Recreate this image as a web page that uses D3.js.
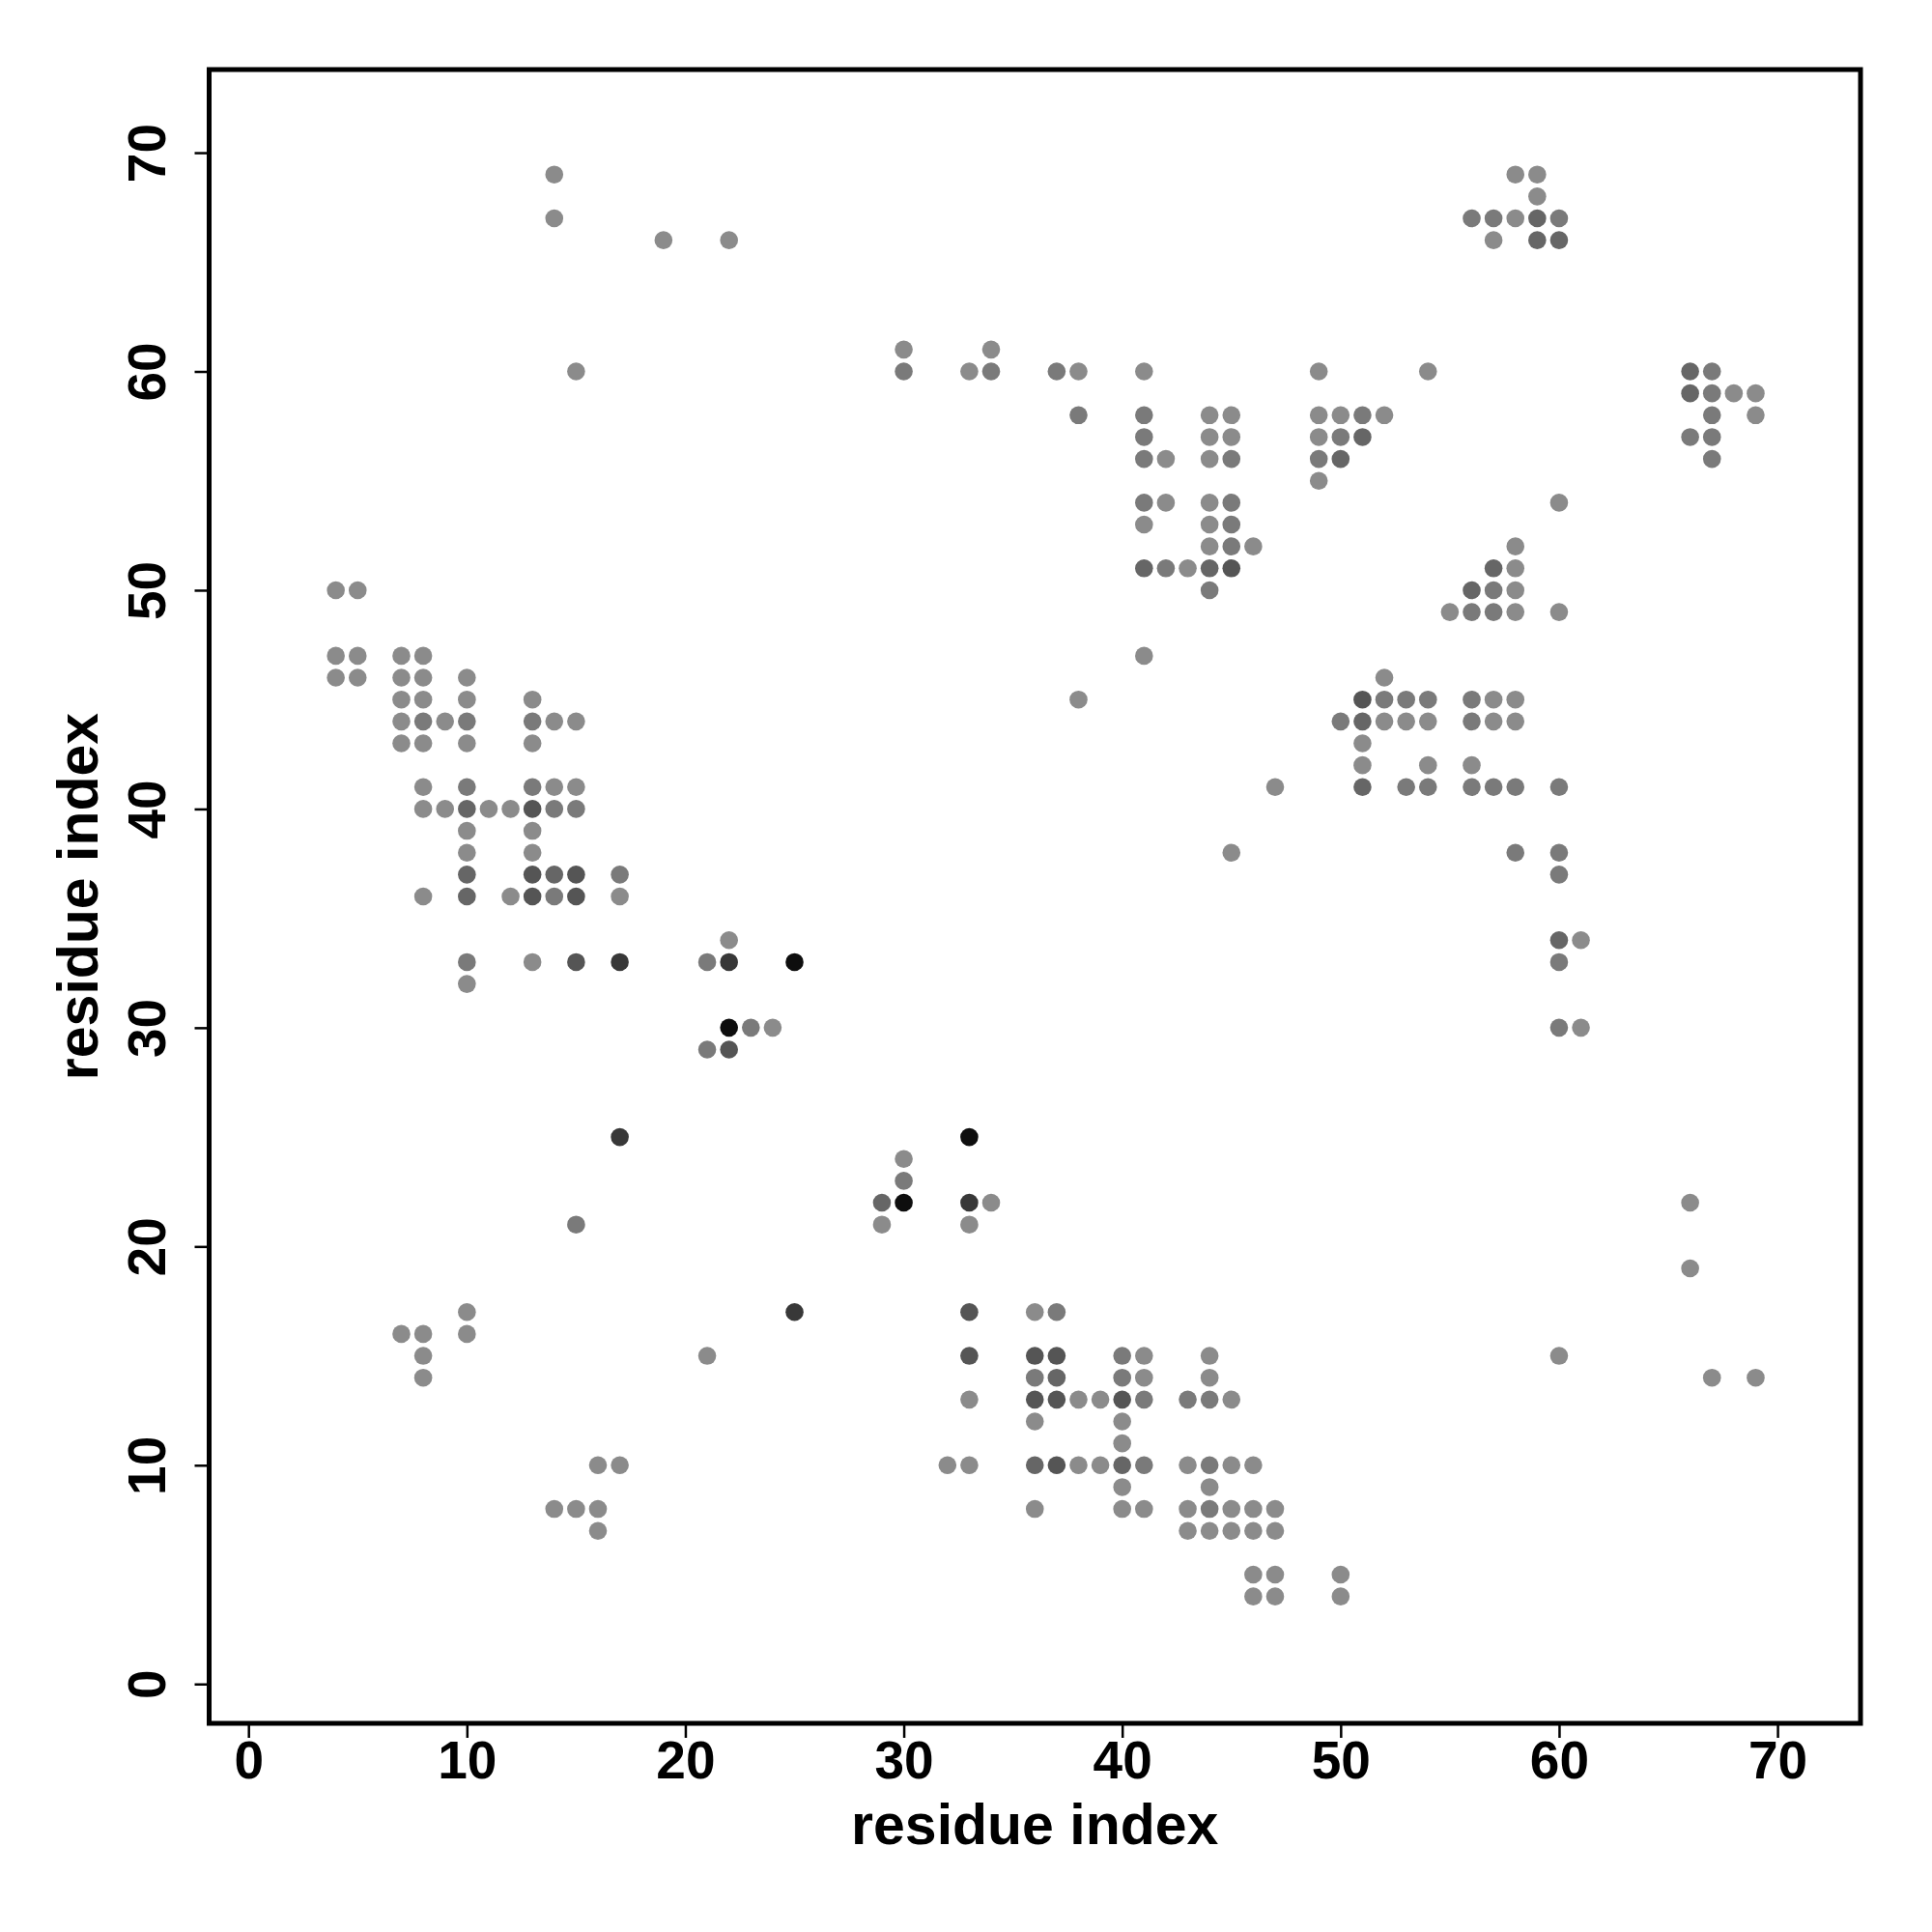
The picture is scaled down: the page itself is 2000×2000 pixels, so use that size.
<!DOCTYPE html>
<html>
<head>
<meta charset="utf-8">
<script src="https://cdn.jsdelivr.net/npm/d3@7"></script>
<style>
  html, body { margin: 0; padding: 0; background: #ffffff; }
  svg { display: block; }
</style>
</head>
<body>
<script>
// ---- data: contact pairs (residue i, residue j) and contact strength level ----
const residueI = [
  14, 58, 59, 59,
  14, 56, 57, 58, 59, 60,
  19, 22, 57, 59, 60,
  30, 34,
  15, 30, 33, 34, 37, 38, 41, 49, 54, 66, 67,
  66, 67, 68, 69,
  38, 41, 44, 45, 49, 50, 51, 52, 67, 69,
  41, 44, 45, 49, 50, 51, 66, 67,
  41, 42, 44, 45, 49, 50, 67,
  49,
  41, 42, 44, 45, 60,
  41, 44, 45,
  44, 45, 46, 58,
  41, 42, 43, 44, 45, 57, 58,
  4, 5, 44, 56, 57, 58,
  55, 56, 57, 58, 60,
  4, 5, 7, 8, 41,
  4, 5, 7, 8, 10, 52,
  7, 8, 10, 13, 38, 51, 52, 53, 54, 56, 57, 58,
  7, 8, 9, 10, 13, 14, 15, 50, 51, 52, 53, 54, 56, 57, 58,
  7, 8, 10, 13, 51,
  51, 54, 56,
  8, 10, 13, 14, 15, 47, 51, 53, 54, 56, 57, 58, 60,
  8, 9, 10, 11, 12, 13, 14, 15,
  10, 13,
  10, 13, 45, 58, 60,
  10, 13, 14, 15, 17, 60,
  8, 10, 12, 13, 14, 15, 17,
  22, 60, 61,
  10, 13, 15, 17, 21, 22, 25, 60,
  10,
  22, 23, 24, 60, 61,
  21, 22,
  17, 33,
  30,
  30,
  29, 30, 33, 34, 66,
  15, 29, 33,
  66,
  10, 25, 33, 36, 37,
  7, 8, 10,
  8, 21, 33, 36, 37, 40, 41, 44, 60,
  8, 36, 37, 40, 41, 44, 67, 69,
  33, 36, 37, 38, 39, 40, 41, 43, 44, 45,
  36, 40,
  40,
  16, 17, 32, 33, 36, 37, 38, 39, 40, 41, 43, 44, 45, 46,
  40, 44,
  14, 15, 16, 36, 40, 41, 43, 44, 45, 46, 47,
  16, 43, 44, 45, 46, 47,
  46, 47, 50,
  46, 47, 50
];
const residueJ = [
  69, 69, 69, 68,
  67, 67, 67, 67, 67, 67,
  66, 66, 66, 66, 66,
  61, 61,
  60, 60, 60, 60, 60, 60, 60, 60, 60, 60, 60,
  59, 59, 59, 59,
  58, 58, 58, 58, 58, 58, 58, 58, 58, 58,
  57, 57, 57, 57, 57, 57, 57, 57,
  56, 56, 56, 56, 56, 56, 56,
  55,
  54, 54, 54, 54, 54,
  53, 53, 53,
  52, 52, 52, 52,
  51, 51, 51, 51, 51, 51, 51,
  50, 50, 50, 50, 50, 50,
  49, 49, 49, 49, 49,
  47, 47, 47, 47, 47,
  46, 46, 46, 46, 46, 46,
  45, 45, 45, 45, 45, 45, 45, 45, 45, 45, 45, 45,
  44, 44, 44, 44, 44, 44, 44, 44, 44, 44, 44, 44, 44, 44, 44,
  43, 43, 43, 43, 43,
  42, 42, 42,
  41, 41, 41, 41, 41, 41, 41, 41, 41, 41, 41, 41, 41,
  40, 40, 40, 40, 40, 40, 40, 40,
  39, 39,
  38, 38, 38, 38, 38,
  37, 37, 37, 37, 37, 37,
  36, 36, 36, 36, 36, 36, 36,
  34, 34, 34,
  33, 33, 33, 33, 33, 33, 33, 33,
  32,
  30, 30, 30, 30, 30,
  29, 29,
  25, 25,
  24,
  23,
  22, 22, 22, 22, 22,
  21, 21, 21,
  19,
  17, 17, 17, 17, 17,
  16, 16, 16,
  15, 15, 15, 15, 15, 15, 15, 15, 15,
  14, 14, 14, 14, 14, 14, 14, 14,
  13, 13, 13, 13, 13, 13, 13, 13, 13, 13,
  12, 12,
  11,
  10, 10, 10, 10, 10, 10, 10, 10, 10, 10, 10, 10, 10, 10,
  9, 9,
  8, 8, 8, 8, 8, 8, 8, 8, 8, 8, 8,
  7, 7, 7, 7, 7, 7,
  5, 5, 5,
  4, 4, 4
];
// 1 = weakest (light grey) ... 6 = strongest (near black)
const contactLevel = [
  1, 1, 1, 1,
  1, 2, 2, 1, 3, 2,
  1, 1, 1, 3, 3,
  1, 1,
  1, 2, 1, 2, 2, 1, 1, 1, 1, 3, 2,
  3, 2, 1, 1,
  2, 2, 1, 1, 1, 1, 2, 1, 2, 1,
  2, 1, 1, 1, 2, 3, 2, 2,
  2, 1, 1, 2, 2, 3, 2,
  1,
  2, 1, 1, 2, 1,
  1, 1, 2,
  1, 2, 1, 1,
  3, 2, 1, 3, 4, 3, 1,
  1, 1, 2, 3, 2, 1,
  1, 2, 2, 1, 1,
  1, 1, 1, 1, 1,
  1, 1, 1, 1, 1, 1,
  1, 1, 1, 1, 1, 4, 2, 2, 2, 2, 1, 1,
  1, 2, 1, 2, 2, 1, 1, 2, 3, 1, 1, 1, 2, 1, 1,
  1, 1, 1, 1, 1,
  1, 1, 1,
  1, 2, 2, 1, 1, 1, 3, 2, 2, 2, 2, 2, 2,
  1, 1, 3, 1, 1, 4, 2, 2,
  1, 1,
  1, 1, 1, 2, 2,
  3, 4, 3, 4, 2, 2,
  1, 3, 1, 4, 2, 4, 1,
  1, 3, 1,
  2, 1, 4, 5, 2, 5, 6, 2,
  1,
  6, 2, 1, 2, 1,
  2, 4,
  5, 6,
  1,
  2,
  3, 6, 5, 1, 1,
  2, 1, 1,
  1,
  1, 5, 4, 1, 2,
  1, 1, 1,
  1, 1, 4, 4, 4, 2, 1, 1, 1,
  1, 2, 3, 2, 1, 1, 1, 1,
  1, 4, 4, 1, 1, 4, 2, 2, 2, 1,
  1, 1,
  1,
  1, 1, 1, 1, 3, 4, 1, 1, 3, 2, 1, 2, 1, 1,
  1, 1,
  1, 1, 1, 1, 1, 1, 1, 2, 1, 1, 1,
  1, 1, 1, 1, 1, 1,
  1, 1, 1,
  1, 1, 1
];
const levelGreys = ["#8b8b8b", "#7a7a7a", "#666666", "#555555", "#383838", "#0e0e0e"];
const xTicks = [0, 10, 20, 30, 40, 50, 60, 70];
const yTicks = [0, 10, 20, 30, 40, 50, 60, 70];
const axisTitle = "residue index";

// ---- layout ----
const W = 2000, H = 2000;
const frameL = 216.5, frameR = 1926, frameT = 72, frameB = 1784;
const domain = [-1.8, 73.8];

const svg = d3.select("body").append("svg")
  .attr("width", W).attr("height", H)
  .style("font-family", "'Liberation Sans', Arial, Helvetica, sans-serif");

svg.append("rect").attr("width", W).attr("height", H).attr("fill", "#fff");

const x = d3.scaleLinear().domain(domain).range([frameL, frameR]);
const y = d3.scaleLinear().domain(domain).range([frameB, frameT]);
const colour = d3.scaleOrdinal().domain([1, 2, 3, 4, 5, 6]).range(levelGreys);

const n = Math.min(residueI.length, residueJ.length, contactLevel.length);
const points = d3.range(n).map(k => ({ i: residueI[k], j: residueJ[k], lev: contactLevel[k] }));

// points (lighter first so darker ones sit on top)
svg.append("g")
  .selectAll("circle")
  .data(points.slice().sort((a, b) => a.lev - b.lev))
  .join("circle")
  .attr("cx", d => x(d.i))
  .attr("cy", d => y(d.j))
  .attr("r", 9.3)
  .attr("fill", d => colour(d.lev));

// frame
svg.append("rect")
  .attr("x", frameL).attr("y", frameT)
  .attr("width", frameR - frameL).attr("height", frameB - frameT)
  .attr("fill", "none").attr("stroke", "#000").attr("stroke-width", 5);

// x axis
const gx = svg.append("g").attr("transform", `translate(0,${frameB})`)
  .call(d3.axisBottom(x).tickValues(xTicks).tickSize(15).tickPadding(3).tickFormat(d3.format("d")));
gx.select(".domain").remove();
gx.selectAll(".tick line").attr("stroke", "#000").attr("stroke-width", 2.5);
gx.selectAll(".tick text")
  .attr("fill", "#000").style("font-size", "55px").style("font-weight", "bold");

// y axis
const gy = svg.append("g").attr("transform", `translate(${frameL},0)`)
  .call(d3.axisLeft(y).tickValues(yTicks).tickSize(15).tickFormat(d3.format("d")));
gy.select(".domain").remove();
gy.selectAll(".tick line").attr("stroke", "#000").attr("stroke-width", 2.5);
gy.selectAll(".tick text")
  .attr("x", null).attr("dy", null)
  .attr("text-anchor", "middle")
  .attr("transform", "translate(-46,0) rotate(-90)")
  .attr("fill", "#000").style("font-size", "55px").style("font-weight", "bold");

// axis titles
svg.append("text")
  .attr("x", (frameL + frameR) / 2).attr("y", 1909)
  .attr("text-anchor", "middle")
  .style("font-size", "59px").style("font-weight", "bold")
  .text(axisTitle);

svg.append("text")
  .attr("transform", `translate(101,${(frameT + frameB) / 2}) rotate(-90)`)
  .attr("text-anchor", "middle")
  .style("font-size", "59px").style("font-weight", "bold")
  .text(axisTitle);
</script>
</body>
</html>
